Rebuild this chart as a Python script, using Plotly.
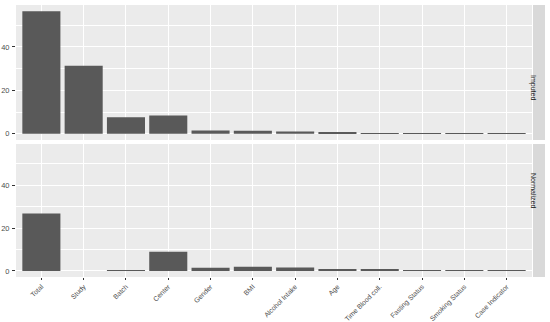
import plotly.graph_objects as go

categories = ["Total", "Study", "Batch", "Center", "Gender", "BMI", "Alcohol Intake",
              "Age", "Time Blood coll.", "Fasting Status", "Smoking Status", "Case Indicator"]
imputed = [56.5, 31.3, 7.6, 8.4, 1.5, 1.4, 1.1, 0.6, 0.3, 0.2, 0.1, 0.03]
normalized = [26.8, 0.0, 0.2, 9.0, 1.5, 2.0, 1.6, 0.8, 0.5, 0.4, 0.2, 0.03]
panels = ["Imputed", "Normalized"]
y_ticks = [0, 20, 40]

W, H = 550, 322
ml, mr, mt, mb = 16, 5, 5, 45
pw = W - ml - mr
ph = H - mt - mb
x_end = (532 - ml) / pw
strip_x0 = (533 - ml) / pw
top_dom = [(H - mb - 140) / ph, 1.0]
bot_dom = [0.0, (H - mb - 144) / ph]

fig = go.Figure()
bar_color = "#595959"
fig.add_trace(go.Bar(x=categories, y=imputed, marker_color=bar_color,
                     marker_line_width=0, xaxis="x", yaxis="y"))
fig.add_trace(go.Bar(x=categories, y=normalized, marker_color=bar_color,
                     marker_line_width=0, xaxis="x2", yaxis="y2"))

ymax = max(max(imputed), max(normalized))
pad = ymax * 0.05
yr = [-pad, ymax + pad]
fam = "Liberation Sans, Arial, sans-serif"
font_xtick = dict(family=fam, size=6.9, color="#4D4D4D")
font_ytick = dict(family=fam, size=7.5, color="#4D4D4D")

common_x = dict(type="category", categoryorder="array", categoryarray=categories,
                range=[-0.6, len(categories) - 0.4], domain=[0, x_end],
                showgrid=True, gridcolor="white", gridwidth=1, zeroline=False,
                tickcolor="#333333", tickwidth=1,
                tickfont=font_xtick, showline=False, automargin=False)
common_y = dict(range=yr, tickvals=y_ticks, showgrid=True, gridcolor="white",
                gridwidth=1, zeroline=False, ticks="outside", ticklen=3,
                tickcolor="#333333", tickwidth=1, tickfont=font_ytick,
                minor=dict(tickvals=[10, 30, 50], showgrid=True, gridcolor="white",
                           gridwidth=0.5, ticks=""),
                showline=False, automargin=False, ticklabelstandoff=1)

fig.update_layout(
    width=W, height=H, margin=dict(l=ml, r=mr, t=mt, b=mb, autoexpand=False),
    paper_bgcolor="white", plot_bgcolor="#EBEBEB",
    showlegend=False, bargap=0.1,
    xaxis=dict(**common_x, anchor="y", showticklabels=False, ticks=""),
    yaxis=dict(**common_y, domain=top_dom, anchor="x"),
    xaxis2=dict(**common_x, anchor="y2", tickangle=-45, ticklabelstandoff=0,
                ticks="outside", ticklen=2),
    yaxis2=dict(**common_y, domain=bot_dom, anchor="x2"),
)

for dom, name in zip([top_dom, bot_dom], panels):
    fig.add_shape(type="rect", xref="paper", yref="paper", x0=strip_x0, x1=1.0,
                  y0=dom[0], y1=dom[1], fillcolor="#D9D9D9", line_width=0, layer="above")
    fig.add_annotation(xref="paper", yref="paper", x=(strip_x0 + 1) / 2,
                       y=(dom[0] + dom[1]) / 2, text=name, textangle=90, showarrow=False,
                       font=dict(family=fam, size=7, color="#1A1A1A"))

fig.write_html("out.html", config={"displayModeBar": False},
               post_script="document.body.style.margin='0';document.body.style.overflow='hidden';")
